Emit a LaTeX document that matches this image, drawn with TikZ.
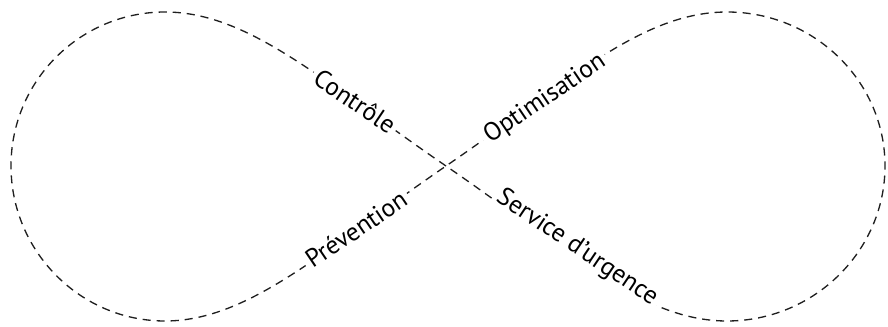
\documentclass[tikz,border=0pt]{standalone}
\usepackage{fontspec}
\setmainfont{PT Sans}
\begin{document}
\begin{tikzpicture}[x=0.02cm,y=-0.02cm,
  loopline/.style={draw=black!88, line width=0.75pt, dash pattern=on 4.6pt off 3.4pt},
  lbl/.style={fill=white, inner sep=2.2pt, font=\fontsize{14.5}{17}\selectfont, text=black}]
\useasboundingbox (0,0) rectangle (888,327);
\coordinate (C) at (446,166);
\path[loopline] (C) .. controls (326,84) and (250,12) .. (165,12)
  .. controls (80,12) and (11,81) .. (11,166)
  .. controls (11,251) and (80,321) .. (165,321)
  .. controls (250,321) and (326,248) .. (C)
  .. controls (566,84) and (640,12) .. (727,12)
  .. controls (814,12) and (885,81) .. (885,166)
  .. controls (885,251) and (814,321) .. (727,321)
  .. controls (640,321) and (566,248) .. (C);
\node[lbl, rotate=-34] (ctrl) at (355,101) {Contrôle};
\node[lbl, rotate=34] (opt) at (545,99) {Optimisation};
\node[lbl, rotate=34] (prev) at (356,229) {Prévention};
\node[lbl, rotate=-34] (serv) at (577,248) {Service d'urgence};
\end{tikzpicture}
\end{document}
